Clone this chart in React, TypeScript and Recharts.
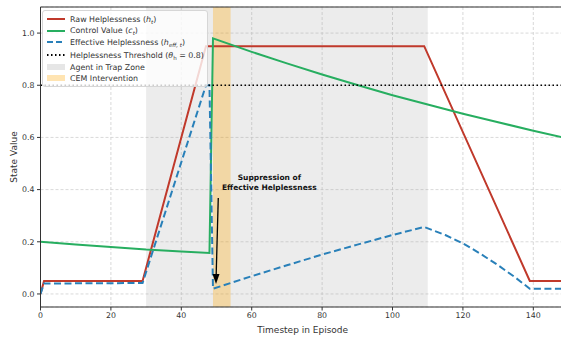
import React from "react"
import {
  LineChart,
  Line,
  XAxis,
  YAxis,
  CartesianGrid,
  ReferenceArea,
  ReferenceLine,
  ReferenceDot,
} from "recharts"

// raw helplessness h_t
const rawSteps = [0, 1, 29, 47, 109, 139, 149]
const rawValues = [0, 0.05, 0.05, 0.95, 0.95, 0.05, 0.05]

// control value c_t
const controlSteps = [0, 10, 20, 30, 40, 48, 49, 60, 70, 80, 90, 100, 110, 120, 130, 140, 149]
const controlValues = [0.2, 0.19, 0.18, 0.17, 0.163, 0.157, 0.98, 0.928, 0.884, 0.841, 0.801, 0.762, 0.726, 0.691, 0.658, 0.626, 0.598]

// effective helplessness h_eff,t
const effSteps = [0, 1, 29, 47, 48, 49, 60, 70, 80, 90, 100, 109, 115, 120, 125, 130, 135, 139, 149]
const effValues = [0, 0.04, 0.042, 0.8, 0.8, 0.02, 0.068, 0.11, 0.151, 0.189, 0.226, 0.257, 0.226, 0.194, 0.154, 0.11, 0.062, 0.02, 0.02]

const xTicks = [0, 20, 40, 60, 80, 100, 120, 140]
const yTicks = [0, 0.2, 0.4, 0.6, 0.8, 1.0]
const trapZone = [30, 110]
const cemWindow = [49, 54]
const threshold = 0.8

const zip = (ts: number[], vs: number[]) => ts.map((t, i) => ({ t, v: vs[i] }))

const rawData = zip(rawSteps, rawValues)
const controlData = zip(controlSteps, controlValues)
const effData = zip(effSteps, effValues)

const FONT = "'DejaVu Sans', sans-serif"
const INK = "#333"
const RED = "#c0392b"
const GREEN = "#27ae60"
const BLUE = "#2980b9"

const Sub = ({ children }: { children: React.ReactNode }) => (
  <sub style={{ fontSize: "70%", verticalAlign: "-0.3em", lineHeight: 0 }}>{children}</sub>
)

const legendItems: { kind: string; color: string; dash?: string; label: React.ReactNode }[] = [
  { kind: "line", color: RED, label: <>Raw Helplessness (<i>h</i><Sub><i>t</i></Sub>)</> },
  { kind: "line", color: GREEN, label: <>Control Value (<i>c</i><Sub><i>t</i></Sub>)</> },
  { kind: "line", color: BLUE, dash: "6 3", label: <>Effective Helplessness (<i>h</i><Sub><i>eff, t</i></Sub>)</> },
  { kind: "line", color: "#000", dash: "1.5 2.5", label: <>Helplessness Threshold (<i>θ</i><Sub>h</Sub> = 0.8)</> },
  { kind: "patch", color: "rgba(200,200,200,0.45)", label: "Agent in Trap Zone" },
  { kind: "patch", color: "rgba(255,165,0,0.3)", label: "CEM Intervention" },
]

function ChartLegend() {
  const rowY = [8.3, 19.7, 31, 44, 56, 67.3]
  return (
    <div
      style={{
        position: "absolute",
        left: 42,
        top: 10,
        width: 166,
        height: 77,
        boxSizing: "border-box",
        background: "rgba(255,255,255,0.8)",
        border: "1px solid #d6d6d6",
        borderRadius: 3,
        fontSize: 7.9,
        color: INK,
        zIndex: 2,
      }}
    >
      {legendItems.map((it, i) => (
        <div
          key={i}
          style={{ position: "absolute", left: 4, top: rowY[i] - 6, height: 12, display: "flex", alignItems: "center", whiteSpace: "nowrap" }}
        >
          <svg width={18} height={8} style={{ marginRight: 5 }}>
            {it.kind === "line" ? (
              <line x1={0} x2={18} y1={4} y2={4} stroke={it.color} strokeWidth={2} strokeDasharray={it.dash} />
            ) : (
              <rect x={0} y={1} width={18} height={6} fill={it.color} />
            )}
          </svg>
          <span>{it.label}</span>
        </div>
      ))}
    </div>
  )
}

export default function App() {
  return (
    <div
      style={{
        position: "absolute",
        left: 0,
        top: 0,
        width: 561,
        height: 337,
        overflow: "hidden",
        background: "#fff",
        fontFamily: FONT,
      }}
    >
      <LineChart width={565} height={337} margin={{ top: 7, right: 0, bottom: 0, left: 0.5 }}>
        <CartesianGrid stroke="#cfcfcf" strokeDasharray="3 2" strokeWidth={0.8} />
        <XAxis
          type="number"
          dataKey="t"
          domain={[0, 149]}
          ticks={xTicks}
          allowDataOverflow
          height={30}
          stroke={INK}
          tickSize={3.5}
          tickMargin={2}
          tick={{ fontSize: 7.8, fill: INK, fontFamily: FONT }}
          label={{ value: "Timestep in Episode", position: "insideBottom", offset: 4, fontSize: 9, fill: INK, fontFamily: FONT }}
        />
        <YAxis
          type="number"
          domain={[-0.05, 1.1]}
          ticks={yTicks}
          allowDataOverflow
          width={40}
          stroke={INK}
          tickSize={3.5}
          tickMargin={2.5}
          tickFormatter={(v: number) => v.toFixed(1)}
          tick={{ fontSize: 7.8, fill: INK, fontFamily: FONT }}
          label={{
            content: (p: any) => {
              const vb = p.viewBox || { x: 0, y: 7, width: 40, height: 300 }
              const cx = 14
              const cy = vb.y + vb.height / 2
              return (
                <text x={cx} y={cy} transform={`rotate(-90 ${cx} ${cy})`} textAnchor="middle" dominantBaseline="central" fontSize={9} fill={INK} fontFamily={FONT}>
                  State Value
                </text>
              )
            },
          }}
        />
        <ReferenceArea x1={trapZone[0]} x2={trapZone[1]} fill="#999" fillOpacity={0.19} stroke="none" />
        <ReferenceArea x1={cemWindow[0]} x2={cemWindow[1]} fill="#ffa500" fillOpacity={0.3} stroke="none" />
        <ReferenceLine y={1.1} stroke={INK} />
        <Line data={rawData} dataKey="v" type="linear" stroke={RED} strokeWidth={2} dot={false} isAnimationActive={false} />
        <Line data={controlData} dataKey="v" type="linear" stroke={GREEN} strokeWidth={2} dot={false} isAnimationActive={false} />
        <Line data={effData} dataKey="v" type="linear" stroke={BLUE} strokeWidth={2} strokeDasharray="7 3.5" dot={false} isAnimationActive={false} />
        <ReferenceLine y={threshold} stroke="#000" strokeWidth={1.5} strokeDasharray="1.5 2.5" />
        <ReferenceLine
          segment={[{ x: 50.5, y: 0.368 }, { x: 49.9, y: 0.07 }]}
          stroke="#000"
          strokeWidth={1.3}
        />
        <ReferenceDot
          x={49.86}
          y={0.038}
          r={0}
          shape={(p: any) => (
            <polygon
              points={`${p.cx},${p.cy} ${p.cx - 3.5},${p.cy - 10} ${p.cx + 3.5},${p.cy - 10}`}
              fill="#000"
            />
          )}
        />
        <ReferenceDot
          x={65}
          y={0.445}
          r={0}
          shape={(p: any) => (
            <text x={p.cx} y={p.cy} textAnchor="middle" fontSize={7.5} fontWeight="bold" fill="#111" fontFamily={FONT}>
              <tspan x={p.cx} dy="0.35em">Suppression of</tspan>
              <tspan x={p.cx} dy={9.4}>Effective Helplessness</tspan>
            </text>
          )}
        />
      </LineChart>
      <ChartLegend />
    </div>
  )
}
